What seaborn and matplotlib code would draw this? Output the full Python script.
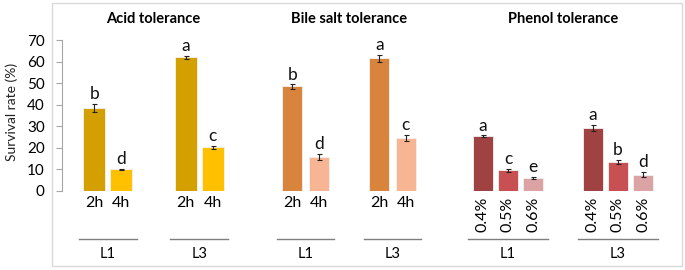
import seaborn as sns
import numpy as np
import pandas as pd
import matplotlib.pyplot as plt
from matplotlib.patches import Rectangle
from matplotlib.lines import Line2D
from matplotlib.transforms import blended_transform_factory

strains = ['L1', 'L3']

# acid tolerance
acid_conds = ['2h', '4h']
acid_l1 = [38.5, 10.0]
acid_l3 = [62.0, 20.2]
acid_err_l1 = [2.0, 0.3]
acid_err_l3 = [0.8, 0.8]
acid_let_l1 = ['b', 'd']
acid_let_l3 = ['a', 'c']
acid_colors = ['#D4A000', '#FFC000']

# bile salt tolerance
bile_conds = ['2h', '4h']
bile_l1 = [48.5, 15.8]
bile_l3 = [61.5, 24.5]
bile_err_l1 = [1.0, 1.3]
bile_err_l3 = [1.5, 1.5]
bile_let_l1 = ['b', 'd']
bile_let_l3 = ['a', 'c']
bile_colors = ['#D9843C', '#F8B593']

# phenol tolerance
phenol_conds = ['0.4%', '0.5%', '0.6%']
phenol_l1 = [25.5, 9.6, 6.0]
phenol_l3 = [29.2, 13.6, 7.6]
phenol_err_l1 = [0.3, 0.8, 0.5]
phenol_err_l3 = [1.5, 1.0, 1.3]
phenol_let_l1 = ['a', 'c', 'e']
phenol_let_l3 = ['a', 'b', 'd']
phenol_colors = ['#A04142', '#C85052', '#DCA3A5']

plt.rcParams['font.family'] = ['Lato', 'DejaVu Sans']

W, H = 685, 270
fig = plt.figure(figsize=(6.85, 2.7), dpi=100)

# frame around the chart
fig.add_artist(Rectangle((52 / W, 4 / H), 630 / W, 263 / H, transform=fig.transFigure,
                         fill=False, edgecolor='#D9D9D9', linewidth=1))
fig.text(12 / W, 1 - 112 / H, 'Survival rate (%)', rotation=90, ha='center', va='center',
         fontsize=10, color='#222222')


def draw_panel(rect, title, conds, v1, v3, e1, e3, l1, l3, colors, width, gap, rotate=False):
    ax = fig.add_axes(rect)
    df = pd.DataFrame({
        'strain': ['L1'] * len(conds) + ['L3'] * len(conds),
        'cond': conds * 2,
        'value': v1 + v3,
    })
    sns.barplot(data=df, x='strain', y='value', hue='cond', order=strains, hue_order=conds,
                palette=colors, width=width, gap=gap, errorbar=None, legend=False,
                saturation=1, edgecolor='#F2F2F2', linewidth=0.6, ax=ax)
    bars = sorted(ax.patches, key=lambda p: p.get_x())
    xs = [b.get_x() + b.get_width() / 2 for b in bars]
    hs = [b.get_height() for b in bars]
    errs = e1 + e3
    lets = l1 + l3
    ax.errorbar(xs, hs, yerr=errs, fmt='none', ecolor='#222222', elinewidth=0.8,
                capsize=1.8, capthick=0.8)
    for x, h, e, t in zip(xs, hs, errs, lets):
        ax.annotate(t, (x, h + e), xytext=(0, 1.2), textcoords='offset points',
                    ha='center', va='bottom', fontsize=12.5, color='#111111')
    ax.set_ylim(0, 70)
    ax.set_xlim(-0.5, 1.5)
    ax.set_xlabel('')
    ax.set_ylabel('')
    ax.set_title(title, fontsize=10.5, fontweight='bold', pad=12)
    trans = blended_transform_factory(ax.transData, ax.transAxes)
    for x, c in zip(xs, conds * 2):
        if rotate:
            ax.text(x, -0.035, c, transform=trans, rotation=90, ha='center', va='top', fontsize=11.5)
        else:
            ax.text(x, -0.08, c, transform=trans, ha='center', va='center', fontsize=11.5)
    half = width / 2 + 0.02
    for i, s in enumerate(strains):
        ax.add_line(Line2D([i - half, i + half], [-0.318, -0.318], transform=trans,
                           color='#7F7F7F', linewidth=1, clip_on=False))
        ax.text(i, -0.417, s, transform=trans, ha='center', va='center', fontsize=10.5)
    ax.set_xticks([])
    for sp in ['top', 'right', 'bottom', 'left']:
        ax.spines[sp].set_visible(False)
    ax.set_yticks([])
    return ax


bottom = 79 / H
height = 151 / H
ax1 = draw_panel([62 / W, bottom, 183 / W, height], 'Acid tolerance', acid_conds,
                 acid_l1, acid_l3, acid_err_l1, acid_err_l3, acid_let_l1, acid_let_l3,
                 acid_colors, 0.59, 0.19)
ax1.spines['left'].set_visible(True)
ax1.spines['left'].set_color('#A6A6A6')
ax1.set_yticks(np.arange(0, 71, 10))
ax1.tick_params(axis='y', length=4.5, color='#A6A6A6', pad=8, labelsize=11)

draw_panel([262 / W, bottom, 174 / W, height], 'Bile salt tolerance', bile_conds,
           bile_l1, bile_l3, bile_err_l1, bile_err_l3, bile_let_l1, bile_let_l3,
           bile_colors, 0.61, 0.23)

draw_panel([453 / W, bottom, 220 / W, height], 'Phenol tolerance', phenol_conds,
           phenol_l1, phenol_l3, phenol_err_l1, phenol_err_l3, phenol_let_l1, phenol_let_l3,
           phenol_colors, 0.69, 0.21, rotate=True)

fig.savefig('out.png', dpi=100)
